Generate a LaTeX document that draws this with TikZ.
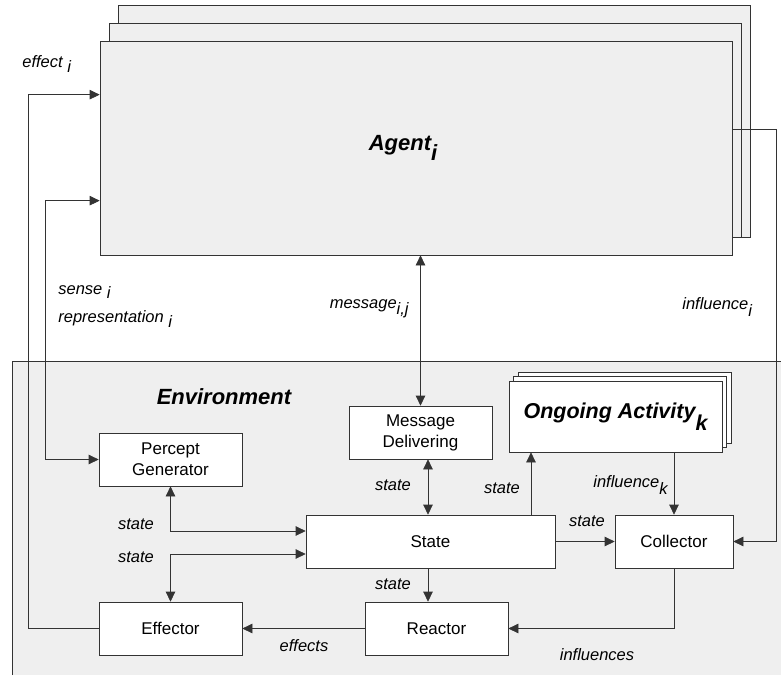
\documentclass[tikz,border=0pt]{standalone}
\usepackage{fontspec}
\setmainfont{Liberation Sans}
\usetikzlibrary{positioning, arrows.meta}
\definecolor{panel}{HTML}{EFEFEF}
\tikzset{blk/.style={draw=black!80, fill=white, align=center, inner sep=0pt, minimum width=143pt, minimum height=53pt, font=\fontsize{17}{21}\selectfont}}
\tikzset{lbl/.style={inner sep=0pt, font=\fontsize{16.5}{20}\selectfont\itshape}}
\tikzset{big/.style={font=\fontsize{22}{26}\selectfont\bfseries\itshape}}
\newcommand{\dn}[2][0.5ex]{\raisebox{-#1}{#2}}

\begin{document}
\begin{tikzpicture}[x=1pt, y=-1pt, >={Triangle[length=10pt, width=9.5pt]}, line width=0.7pt, draw=black!80]
\useasboundingbox (0,0) rectangle (781,675);
% environment panel
\fill[panel] (12,361) rectangle (781,675);
\draw (12,675) |- (781,361);
\node[big] (env) at (224,397) {Environment};
% agent stack
\foreach \k in {2,1}
  \draw[fill=panel] (100+9*\k,41-18*\k) rectangle (732+9*\k,237);
\node[blk, fill=panel, minimum width=632pt, minimum height=214pt, big] (ag) at (416,148) {Agent\dn[0.9ex]{i}\hspace*{26pt}};
% ongoing activity stack
\foreach \k in {2,1}
  \draw[fill=white] (509+4.5*\k,381-4.5*\k) rectangle (722+4.5*\k,452-4.5*\k);
\node[blk, minimum width=213pt, minimum height=71pt, font=\fontsize{21.5}{26}\selectfont\bfseries\itshape] (oa) at (615.5,416.5) {Ongoing Activity\dn[1.1ex]{k}};
% environment parts
\node[blk] (md) at (420.5,432.5) {Message\\Delivering};
\node[blk] (pg) at (170.5,459.5) {Percept\\Generator};
\node[blk] (ef) [below of=pg, node distance=169pt] {Effector};
\node[blk] (re) [right of=ef, node distance=266pt] {Reactor};
\node[blk, minimum width=249pt] (st) at (430.5,541.5) {State};
\node[blk, minimum width=118pt] (co) at (674,541.5) {Collector};
%
\draw[<->] (md.north) -- (md.north |- ag.south);
\draw[<->] ([xshift=-2.5pt]st.north) -- ([xshift=-2.5pt]st.north |- md.south);
\draw[<->] (pg.south) |- ([yshift=10.5pt]st.west);
\draw[<->] ([yshift=-12.5pt]st.west) -| (ef.north);
\draw[->] ([xshift=-2.5pt]st.south) -- ([xshift=-2.5pt]st.south |- re.north);
\draw[->] ([xshift=100.5pt]st.north) -- ([xshift=100.5pt]st.north |- oa.south);
\draw[->] (co.north |- oa.south) -- (co.north);
\draw[->] (st.east) -- (co.west);
\draw[->] (co.south) |- (re.east);
\draw[->] (re.west) -- (ef.east);
\draw[->] (ef.west) -- ++(-70,0) |- ([yshift=-54pt]ag.north west);
\draw[<->] (pg.west) -- ++(-53,0) |- ([yshift=-160pt]ag.north west);
\draw[->] ([yshift=-89pt]ag.north east) -- ++(44,0) |- (co.east);
% labels
\node[lbl, anchor=west] (l-eff) at (22,64) {effect \dn{i}};
\node[lbl, anchor=west] (l-sen) at (58,292) {sense \dn{i}};
\node[lbl, anchor=west] (l-rep) at (58,319) {representation \dn{i}};
\node[lbl, anchor=east] (l-msg) at (409,309) {message\dn[0.7ex]{i,j}};
\node[lbl, anchor=west] (l-inf) at (682,307) {influence\dn[0.7ex]{i}};
\node[lbl] (s1) at (136,524) {state};
\node[lbl] (s2) at (136,557) {state};
\node[lbl] (s3) at (393,485) {state};
\node[lbl] (s4) at (393,584) {state};
\node[lbl] (s5) at (502,488) {state};
\node[lbl] (s6) at (587,521) {state};
\node[lbl, anchor=east] (l-ink) at (668,485) {influence\dn[0.9ex]{k}};
\node[lbl] (l-infs) at (597,655) {influences};
\node[lbl] (l-efs) at (304,646) {effects};
\end{tikzpicture}
\end{document}
